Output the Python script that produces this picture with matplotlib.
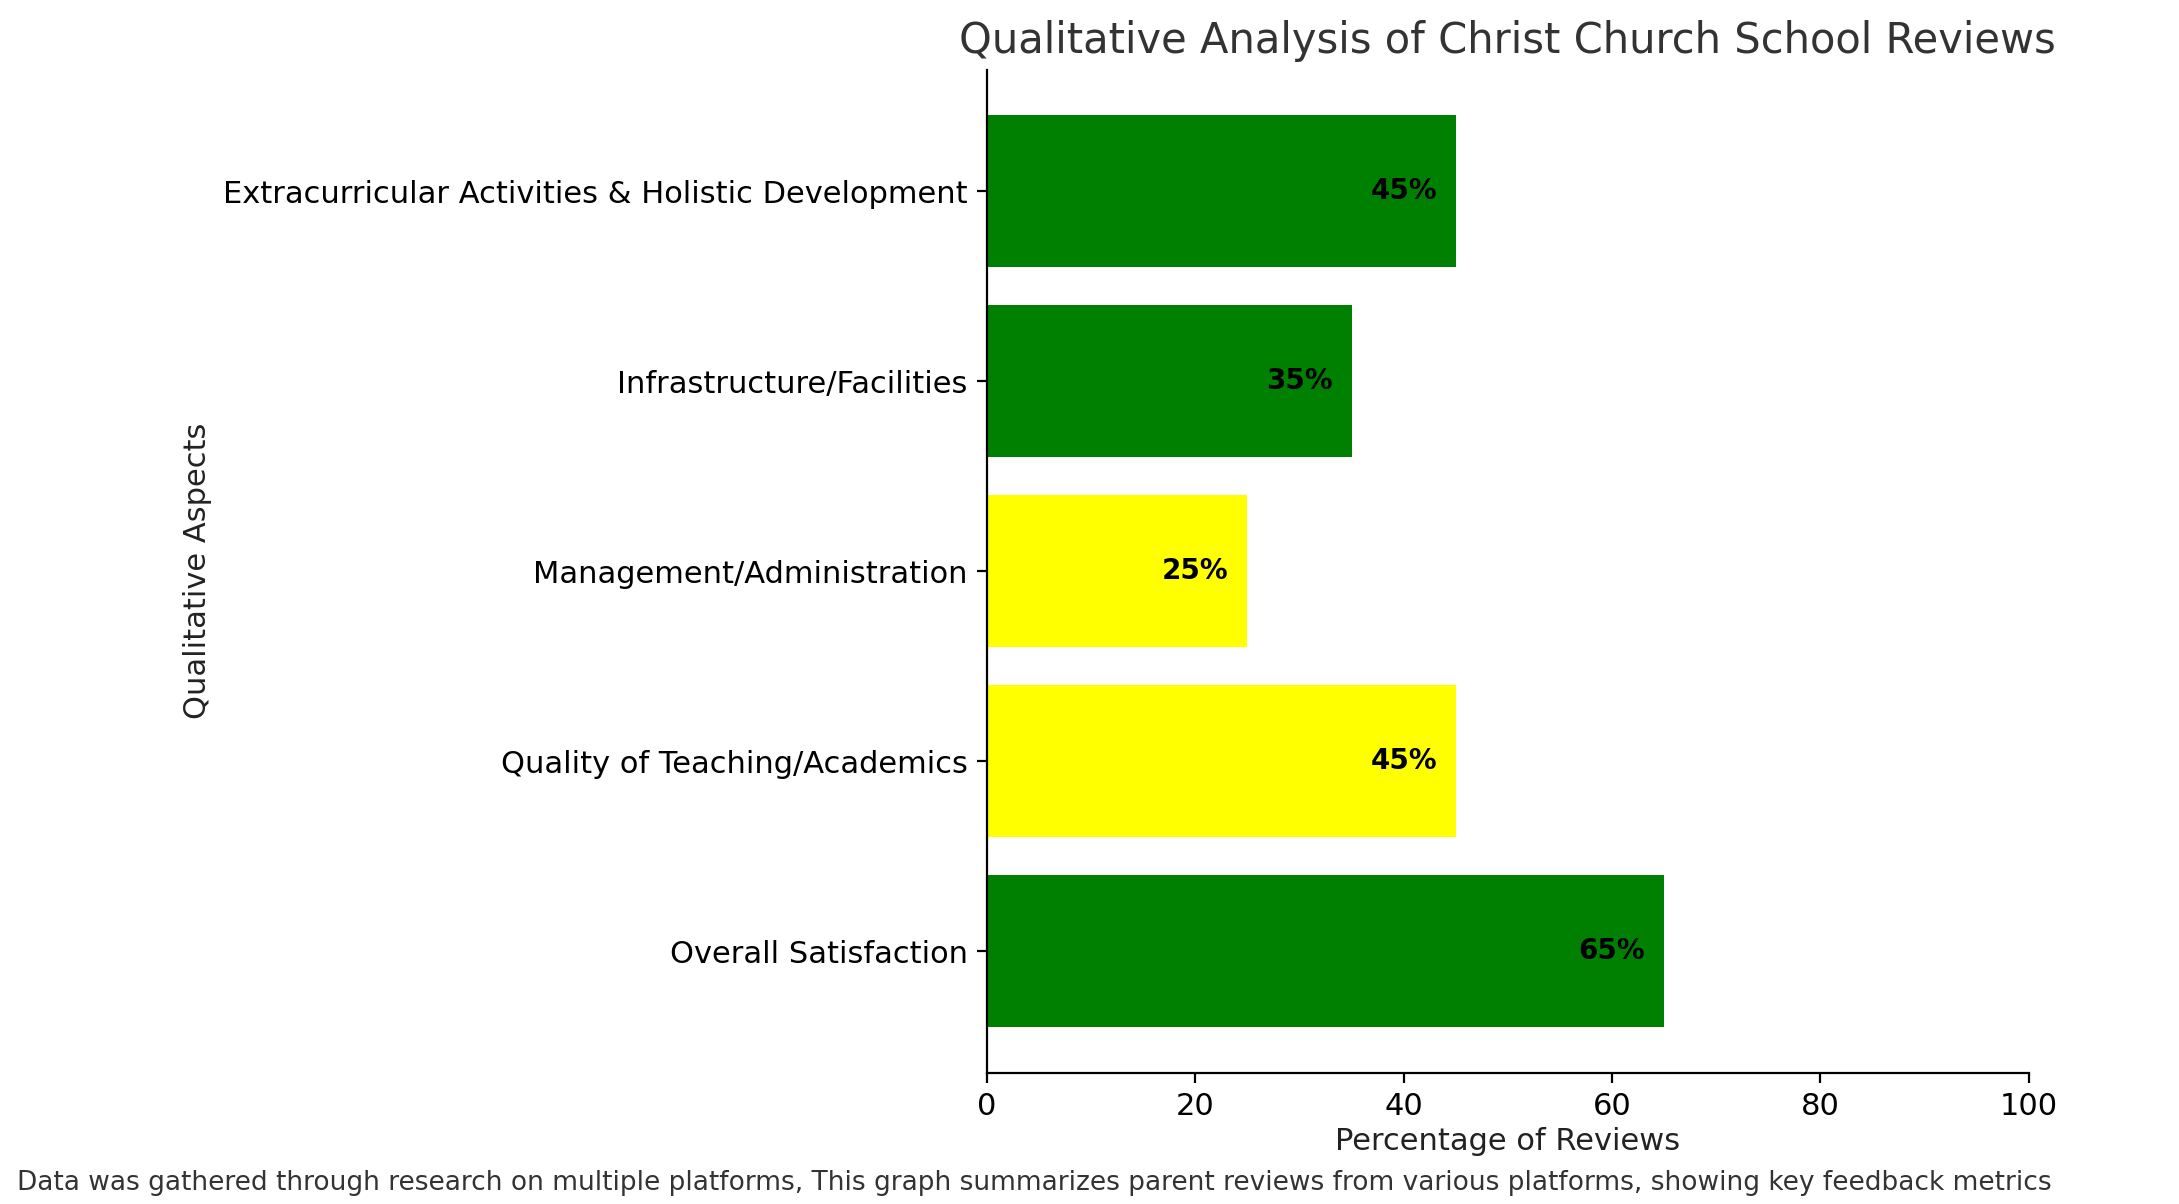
import matplotlib
matplotlib.use('Agg')
import matplotlib.pyplot as plt

aspects = ['Overall Satisfaction', 'Quality of Teaching/Academics',
           'Management/Administration', 'Infrastructure/Facilities',
           'Extracurricular Activities & Holistic Development']
percent = [65, 45, 25, 35, 45]
colours = ['green', 'yellow', 'yellow', 'green', 'green']

fig = plt.figure(figsize=(10.895, 6.02), dpi=200)
ax = fig.add_axes([0.453, 0.109, 0.478, 0.833])
bars = ax.barh(aspects, percent, color=colours)
for b, v in zip(bars, percent):
    ax.text(v - 5, b.get_y() + b.get_height() / 2, f'{v}%', ha='center', va='center',
            fontsize=10, fontweight='bold', color='black')

ax.set_xlim(0, 100)
ax.set_xlabel('Percentage of Reviews', fontsize=11, color='#222222', labelpad=2)
ax.set_ylabel('Qualitative Aspects', fontsize=11, color='#222222')
ax.set_title('Qualitative Analysis of Christ Church School Reviews', fontsize=15, color='#333333')
ax.tick_params(labelsize=11)
for s in ['top', 'right']:
    ax.spines[s].set_visible(False)

fig.text(0.008, 0.012, 'Data was gathered through research on multiple platforms, This graph summarizes parent reviews from various platforms, showing key feedback metrics',
         fontsize=9.5, color='#333333')

plt.savefig('out.png')
